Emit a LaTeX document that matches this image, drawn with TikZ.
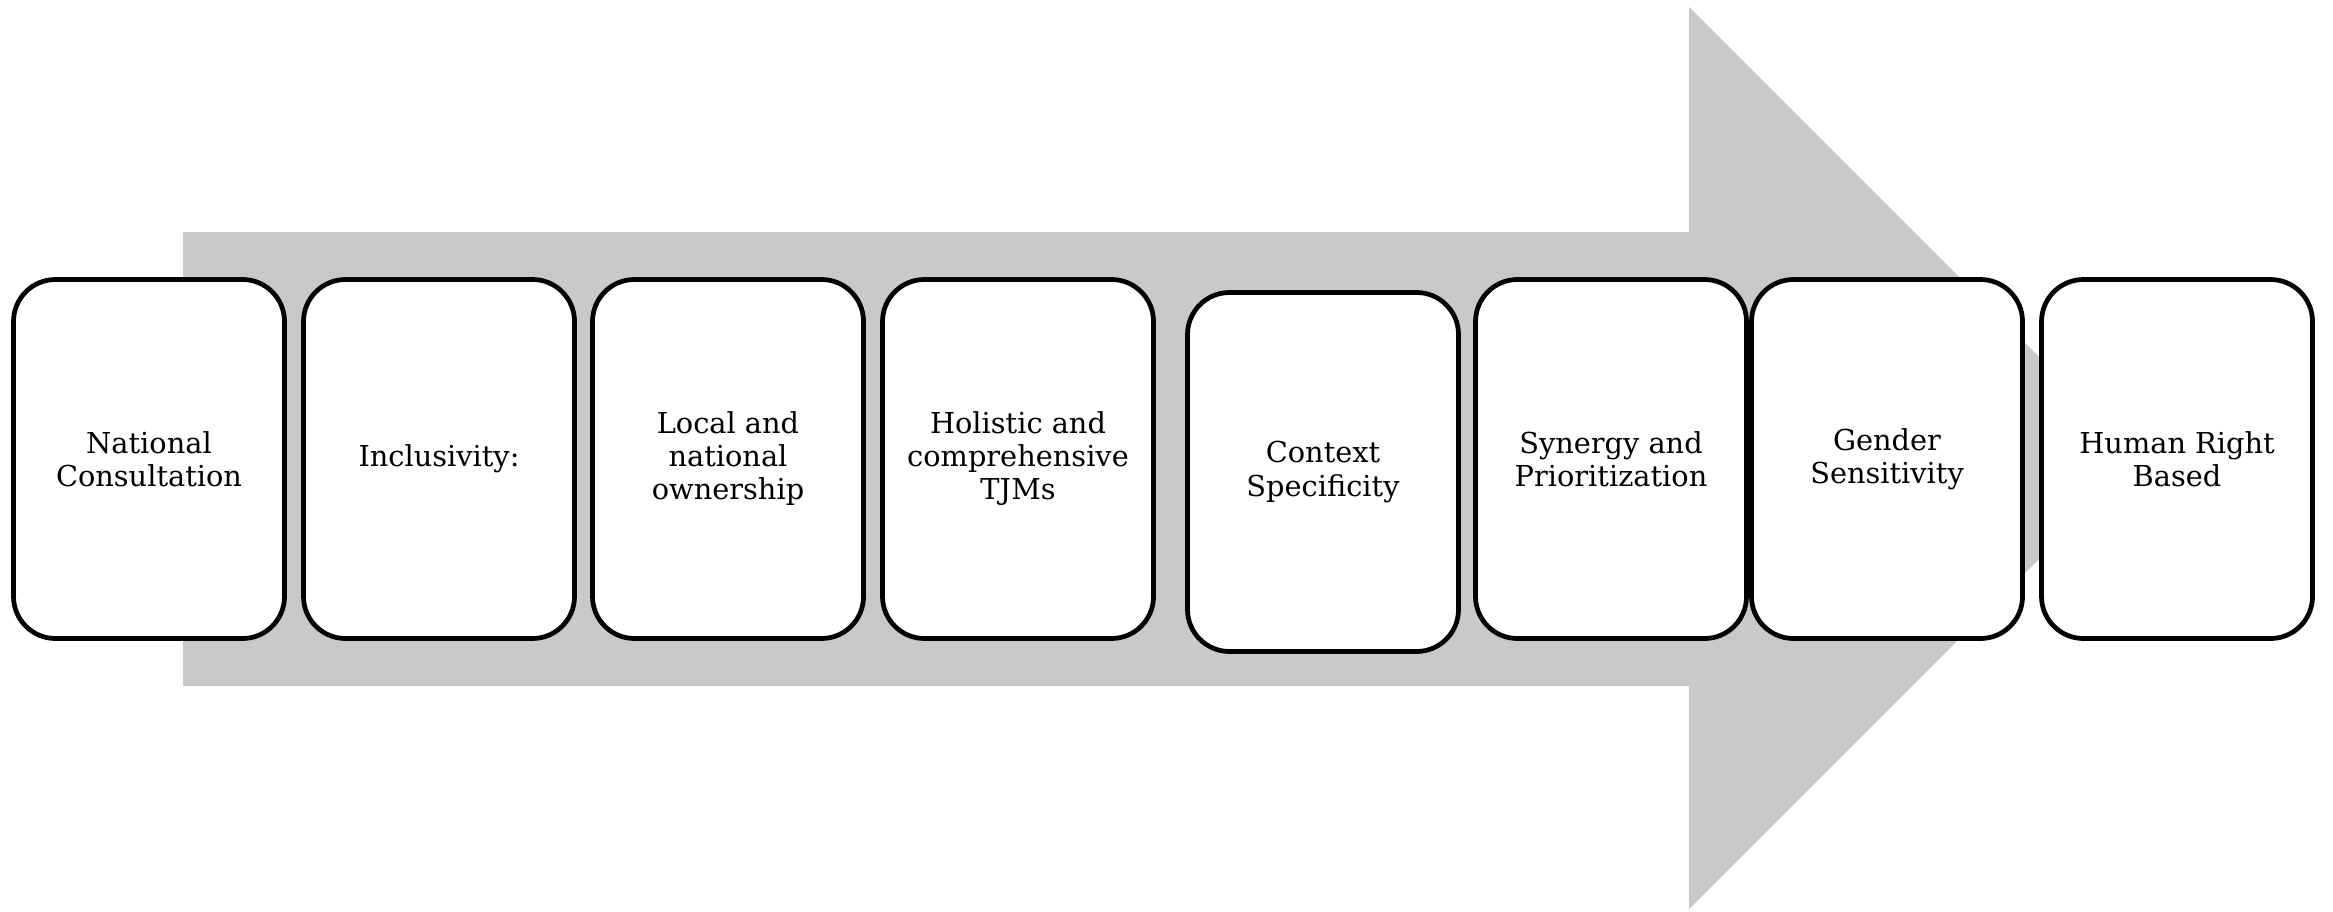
\documentclass[tikz,border=0pt]{standalone}
\usepackage{fontspec}
\setmainfont{DejaVu Serif}
\definecolor{arrowgray}{RGB}{201,201,201}
\tikzset{
  principle/.style={draw=black, line width=1.35pt, fill=white, rounded corners=0.42cm,
    minimum width=2.71cm, minimum height=3.59cm, align=center, inner sep=0pt,
    font=\fontsize{8.2}{9.4}\selectfont}
}
\begin{document}
\begin{tikzpicture}
  \useasboundingbox (0,0) rectangle (23.33,9.11);
  \fill[arrowgray] (1.83,2.25) -- (16.89,2.25) -- (16.89,0.02) -- (21.40,4.53)
    -- (16.89,9.04) -- (16.89,6.79) -- (1.83,6.79) -- cycle;
  \draw
    (1.49,4.52) node[principle] (1){National\\Consultation}
    (4.39,4.52) node[principle] (2){Inclusivity:}
    (7.28,4.52) node[principle] (3){Local and\\national\\ownership}
    (10.18,4.52) node[principle] (4){Holistic and\\comprehensive\\TJMs}
    (13.23,4.39) node[principle] (5){Context\\Specificity}
    (16.11,4.52) node[principle] (6){Synergy and\\Prioritization}
    (18.87,4.52) node[principle] (7){Gender\\Sensitivity}
    (21.77,4.52) node[principle] (8){Human Right\\Based};
\end{tikzpicture}
\end{document}
